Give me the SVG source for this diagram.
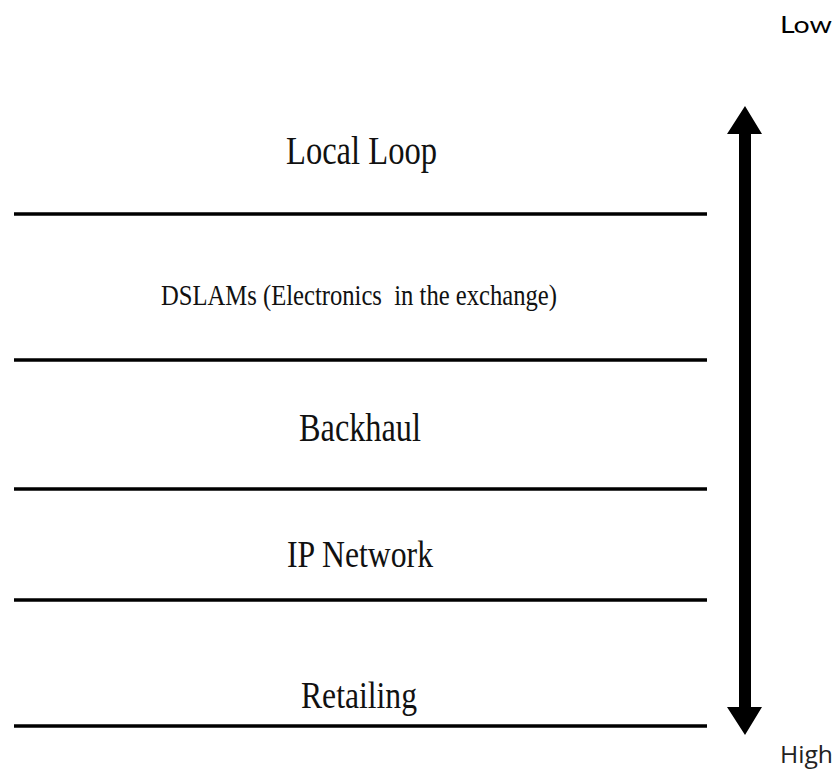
<svg xmlns="http://www.w3.org/2000/svg" width="835" height="769" viewBox="0 0 835 769">
<style>
.layer{font-family:"Liberation Serif","Times New Roman",serif;fill:#111;}
.sep{stroke:#000;stroke-width:3.5;}
</style>
<rect width="835" height="769" fill="#fff"/>
<g id="local-loop">
<text class="layer" x="286" y="164" font-size="39" textLength="151" lengthAdjust="spacingAndGlyphs">Local Loop</text>
<line class="sep" x1="14" y1="214" x2="707" y2="214"/>
</g>
<g id="dslams">
<text class="layer" x="161" y="305" font-size="29" textLength="396" lengthAdjust="spacingAndGlyphs" xml:space="preserve">DSLAMs (Electronics  in the exchange)</text>
<line class="sep" x1="14" y1="360" x2="707" y2="360"/>
</g>
<g id="backhaul">
<text class="layer" x="299" y="441" font-size="41" textLength="122" lengthAdjust="spacingAndGlyphs">Backhaul</text>
<line class="sep" x1="14" y1="489" x2="707" y2="489"/>
</g>
<g id="ip-network">
<text class="layer" x="287" y="567" font-size="37" textLength="146" lengthAdjust="spacingAndGlyphs">IP Network</text>
<line class="sep" x1="14" y1="600" x2="707" y2="600"/>
</g>
<g id="retailing">
<text class="layer" x="301" y="708" font-size="38" textLength="116" lengthAdjust="spacingAndGlyphs">Retailing</text>
<line class="sep" x1="14" y1="726" x2="707" y2="726"/>
</g>
<g id="low">
<text x="780" y="33" font-family="Lato,'Noto Sans',sans-serif" font-size="24" fill="#000" textLength="52" lengthAdjust="spacingAndGlyphs">Low</text>
</g>
<g id="high">
<text x="780" y="763" font-family="'Open Sans','Noto Sans',sans-serif" font-size="24" fill="#222" textLength="53" lengthAdjust="spacingAndGlyphs">High</text>
</g>
<g id="connectors">
<polygon points="745,106 762,134 751,134 751,707 762,707 745,735 727,707 739,707 739,134 727,134" fill="#000"/>
</g>
</svg>
